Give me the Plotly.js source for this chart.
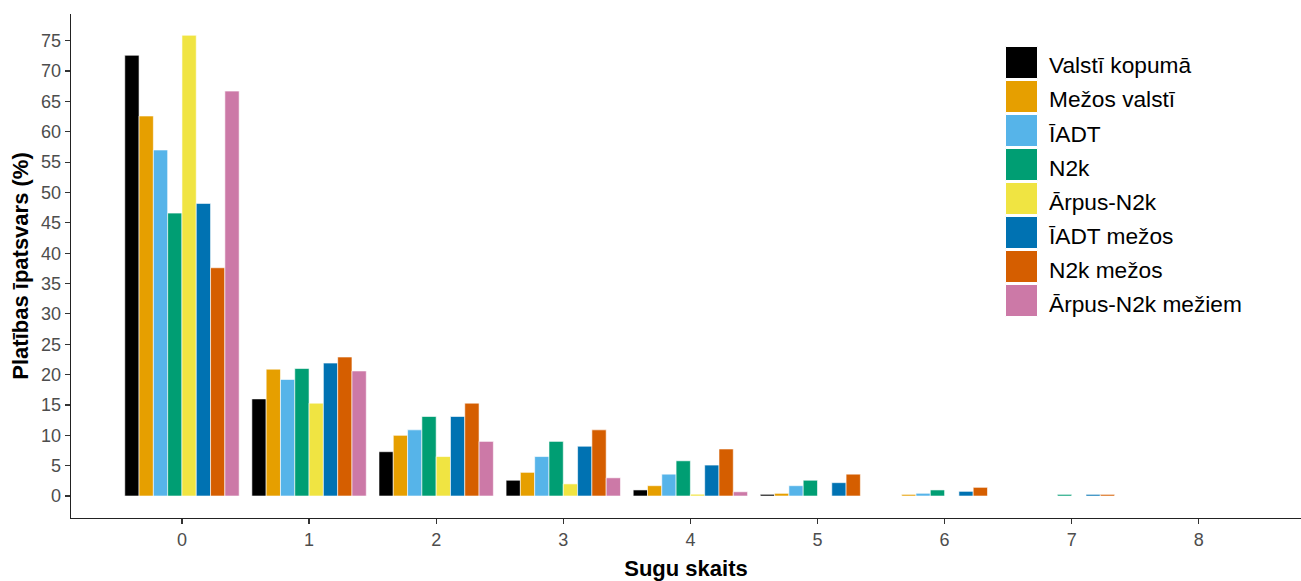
<!DOCTYPE html>
<html>
<head>
<meta charset="utf-8">
<script src="https://cdn.plot.ly/plotly-3.0.1.min.js"></script>
<style>html,body{margin:0;padding:0;background:#fff;}#chart{width:1301px;height:581px;}</style>
</head>
<body>
<div id="chart"></div>
<script>
// Categories: number of species
const categories = [0, 1, 2, 3, 4, 5, 6, 7, 8];
const tickLabels = ["0", "1", "2", "3", "4", "5", "6", "7", "8"];
const yTicks = [0, 5, 10, 15, 20, 25, 30, 35, 40, 45, 50, 55, 60, 65, 70, 75];

// Series values (%)
const valstiKopuma   = [72.6, 16.0, 7.3, 2.6, 1.0, 0.28, 0, 0, 0];
const mezosValsti    = [62.6, 20.9, 10.0, 3.9, 1.7, 0.44, 0.27, 0, 0];
const iadt           = [57.0, 19.2, 10.9, 6.5, 3.6, 1.7, 0.45, 0, 0];
const n2k            = [46.6, 21.0, 13.1, 9.0, 5.8, 2.6, 1.0, 0.27, 0];
const arpusN2k       = [75.9, 15.3, 6.5, 2.0, 0.3, 0, 0, 0, 0];
const iadtMezos      = [48.2, 21.9, 13.1, 8.2, 5.1, 2.2, 0.77, 0.27, 0];
const n2kMezos       = [37.6, 22.9, 15.3, 10.9, 7.75, 3.6, 1.43, 0.27, 0];
const arpusN2kMeziem = [66.7, 20.6, 9.0, 3.0, 0.7, 0, 0, 0, 0];

const seriesNames = ["Valstī kopumā", "Mežos valstī", "ĪADT", "N2k", "Ārpus-N2k", "ĪADT mežos", "N2k mežos", "Ārpus-N2k mežiem"];
const seriesValues = [valstiKopuma, mezosValsti, iadt, n2k, arpusN2k, iadtMezos, n2kMezos, arpusN2kMeziem];
const seriesColors = ["#000000", "#E69F00", "#56B4E9", "#009E73", "#F0E442", "#0072B2", "#D55E00", "#CC79A7"];

const FONT = "Arial, 'Liberation Sans', sans-serif";

const traces = seriesNames.map((name, i) => ({
  type: "bar",
  name: name,
  x: categories,
  y: seriesValues[i].map(v => (v === 0 ? null : v)),
  marker: { color: seriesColors[i], line: { color: "#ffffff", width: 0.6 } },
  showlegend: false,
  hoverinfo: "x+y+name"
}));

// Manual legend (layout geometry in pixels converted to paper coords)
const W = 1301, H = 581;
const M = { l: 71, r: 0, t: 14, b: 63 };
const pw = W - M.l - M.r, ph = H - M.t - M.b;
const px2x = p => (p - M.l) / pw;
const py2y = p => (H - M.b - p) / ph;

const shapes = [];
const annotations = [];
seriesNames.forEach((name, i) => {
  const cy = 62.5 + 34 * i;
  shapes.push({
    type: "rect", xref: "paper", yref: "paper",
    x0: px2x(1005.5), x1: px2x(1037.5),
    y0: py2y(cy + 16), y1: py2y(cy - 16),
    fillcolor: seriesColors[i], line: { color: "#ffffff", width: 1 }
  });
  annotations.push({
    xref: "paper", yref: "paper", x: px2x(1047), y: py2y(cy + 3),
    xanchor: "left", yanchor: "middle", showarrow: false,
    text: name, font: { family: FONT, size: 22.7, color: "#000000" }
  });
});

const layout = {
  width: W, height: H,
  margin: M,
  paper_bgcolor: "#ffffff",
  plot_bgcolor: "#ffffff",
  barmode: "group",
  bargap: 0.1,
  bargroupgap: 0,
  font: { family: FONT },
  xaxis: {
    range: [-0.873, 8.804],
    tickmode: "array", tickvals: categories, ticktext: tickLabels,
    showgrid: false, zeroline: false,
    showline: true, linecolor: "#222222", linewidth: 1.3,
    ticks: "outside", ticklen: 5, tickwidth: 1.2, tickcolor: "#333333",
    tickfont: { family: FONT, size: 18, color: "#4d4d4d" },
    title: { text: "<b>Sugu skaits</b>", font: { family: FONT, size: 22, color: "#000000" }, standoff: 11 }
  },
  yaxis: {
    range: [-3.62, 79.4],
    tickmode: "array", tickvals: yTicks,
    showgrid: false, zeroline: false,
    showline: true, linecolor: "#222222", linewidth: 1.3,
    ticks: "outside", ticklen: 5, tickwidth: 1.2, tickcolor: "#333333",
    tickfont: { family: FONT, size: 18, color: "#4d4d4d" },
    title: { text: "<b>Platības īpatsvars (%)</b>", font: { family: FONT, size: 22, color: "#000000" }, standoff: 6 }
  },
  shapes: shapes,
  annotations: annotations
};

Plotly.newPlot("chart", traces, layout, { displayModeBar: false, staticPlot: true });
</script>
</body>
</html>
